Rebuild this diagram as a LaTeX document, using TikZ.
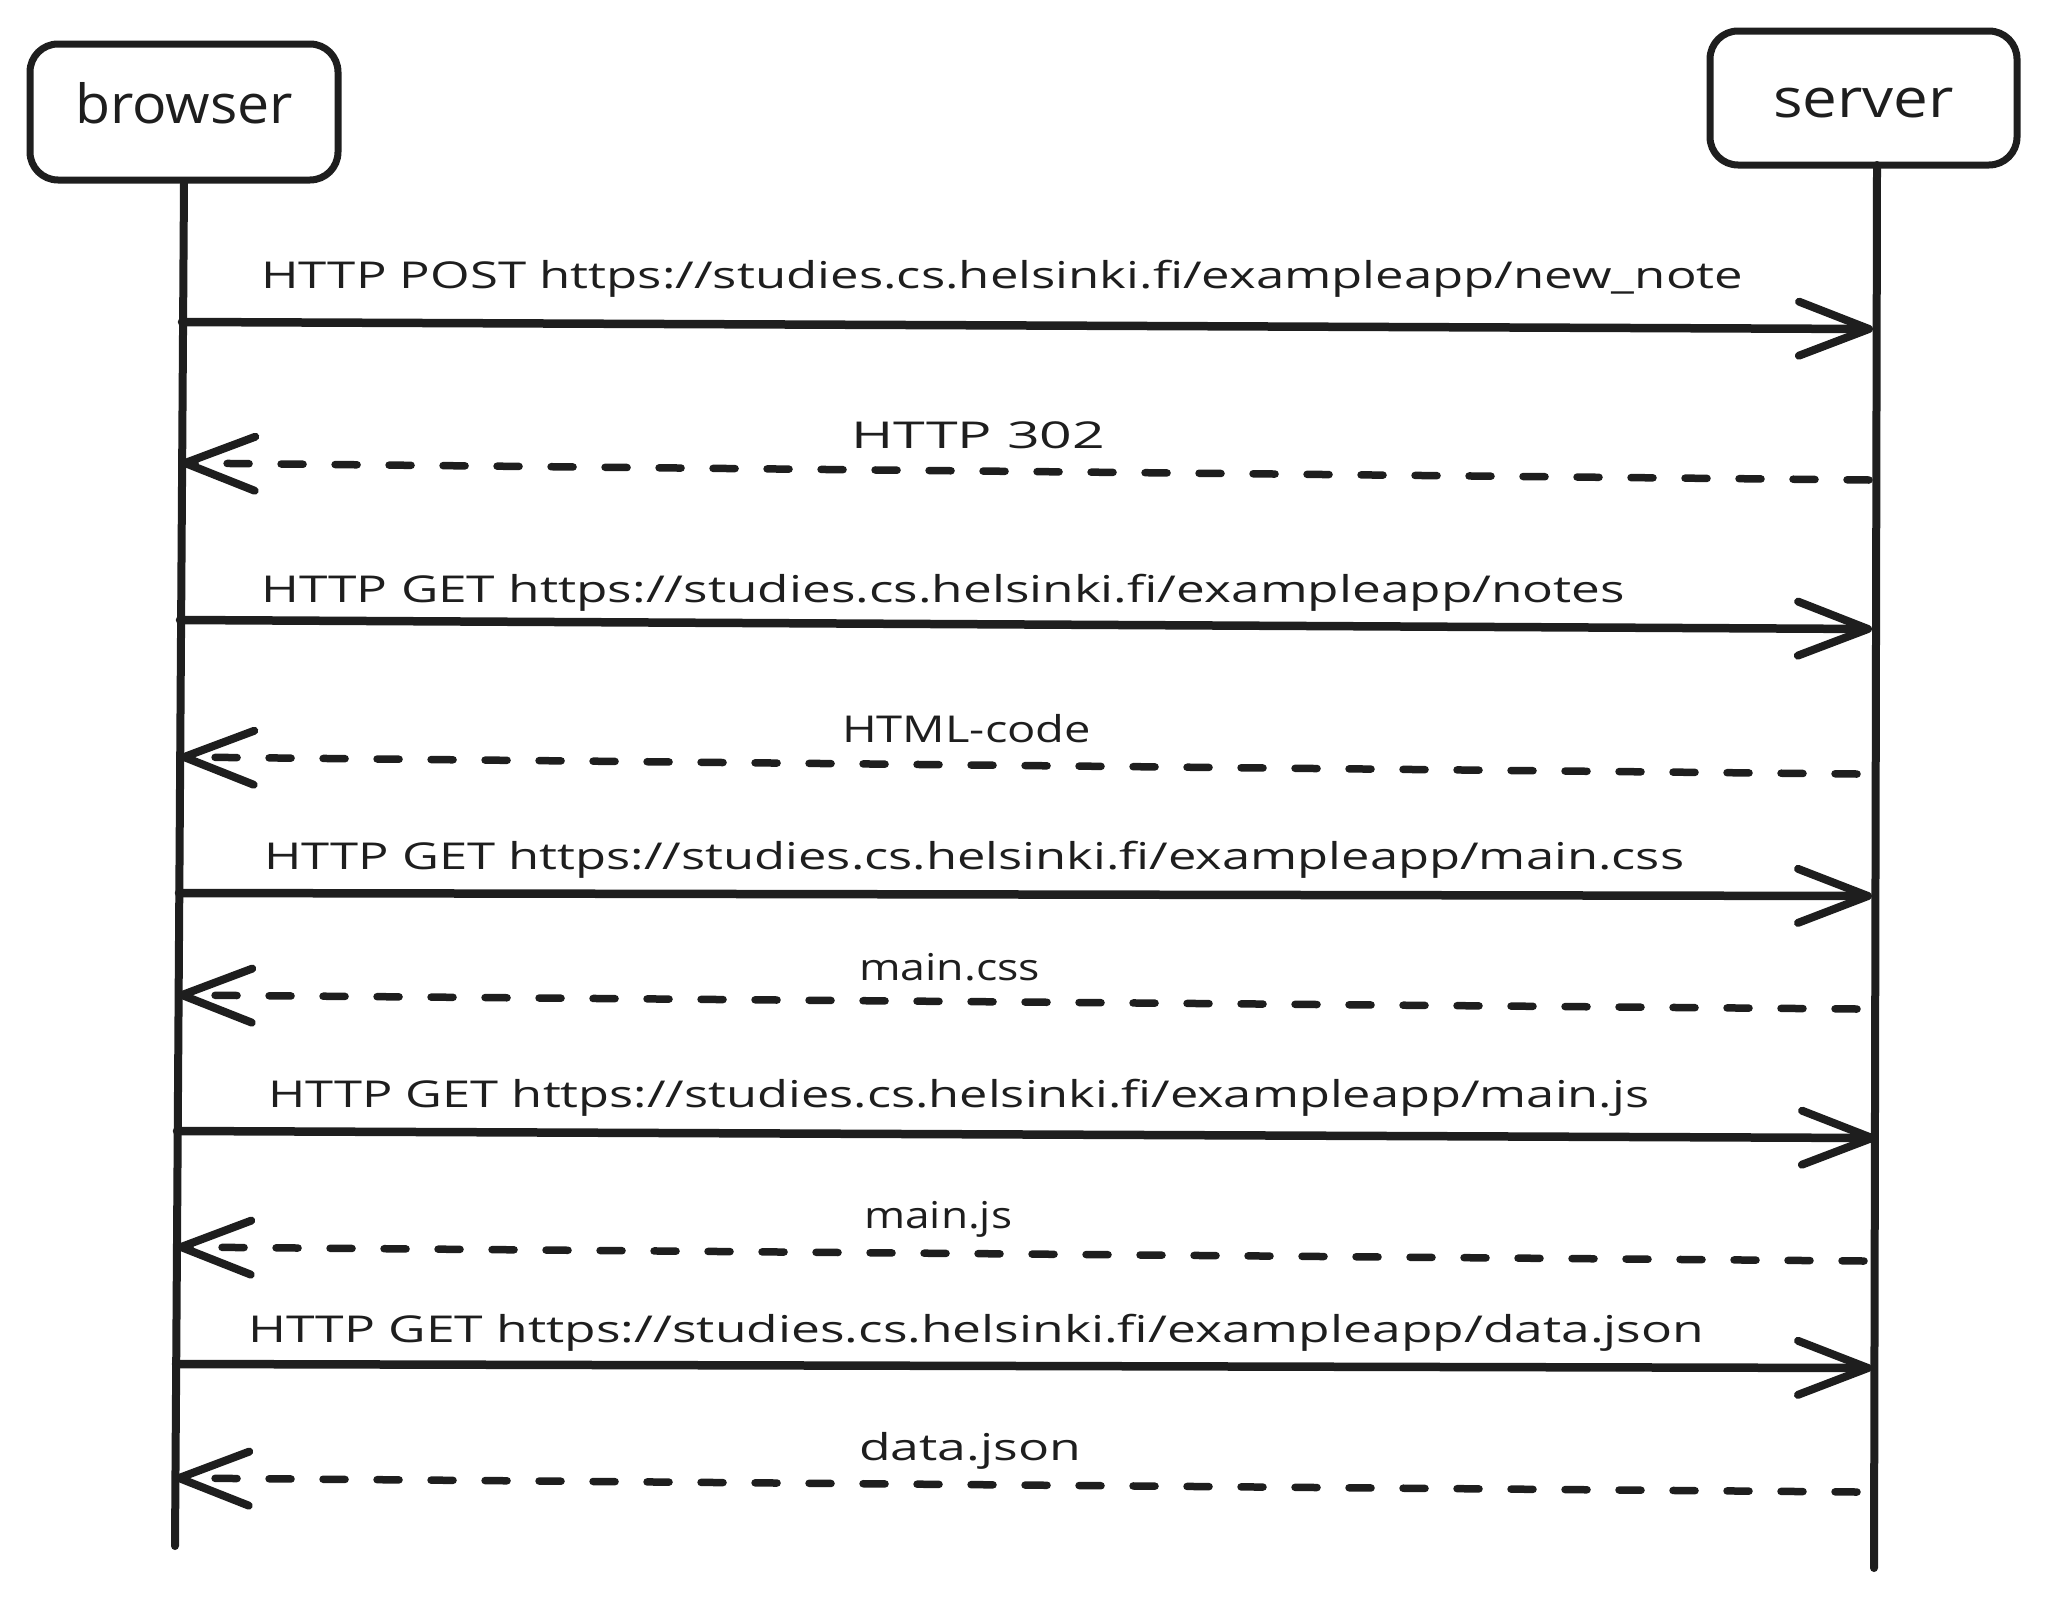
\documentclass[tikz,border=0pt]{standalone}
\usepackage{fontspec}
\setmainfont{Open Sans}
\usetikzlibrary{arrows.meta}
\definecolor{ink}{HTML}{1E1E1E}
\newlength\lablen
\newcommand\fitx[2]{\settowidth\lablen{#2}\pgfmathsetmacro\labfac{#1/\lablen}\scalebox{\labfac}[1]{#2}}
\begin{document}
\begin{tikzpicture}[x=1pt,y=-1pt,line cap=round,line join=round,
  actor/.style={draw=ink,line width=7pt,rounded corners=28pt,inner sep=0pt,text=ink,
    font=\fontsize{54}{64}\selectfont,text height=41pt},
  lifeline/.style={draw=ink,line width=8pt},
  tip/.style={-{Straight Barb[length=70pt,width=54pt,line width=8pt,round]}},
  req/.style={draw=ink,line width=8.5pt,tip},
  resp/.style={draw=ink,line width=7.5pt,dash pattern=on 22pt off 32pt,tip},
  msg/.style={inner sep=0pt,anchor=base west,text=ink,font=\fontsize{37}{44}\selectfont}]
\useasboundingbox (0,0) rectangle (2047,1598);
% actors
\node[actor,minimum width=308pt,minimum height=136pt,text depth=19pt] (browser) at (184,112) {\fitx{218pt}{browser}};
\node[actor,minimum width=307pt,minimum height=134pt,text depth=3pt] (server) at (1863.5,98) {\fitx{181pt}{server}};
% lifelines
\coordinate (bbot) at (175,1546);
\coordinate (stop) at (1877,165);
\coordinate (sbot) at (1874,1568);
\draw[lifeline] (browser.south) -- (bbot);
\draw[lifeline] (stop) -- (sbot);
% message end points
\coordinate (b1) at (182,322);   \coordinate (s1) at (1873,329);
\coordinate (s2) at (1869,480);  \coordinate (b2) at (181,463);
\coordinate (b3) at (180,620);   \coordinate (s3) at (1872,629);
\coordinate (s4) at (1857,774);  \coordinate (b4) at (180,757);
\coordinate (b5) at (179,893);   \coordinate (s5) at (1872,896);
\coordinate (s6) at (1857,1009); \coordinate (b6) at (178,995);
\coordinate (b7) at (177,1131);  \coordinate (s7) at (1876,1138);
\coordinate (s8) at (1864,1261); \coordinate (b8) at (177,1247);
\coordinate (b9) at (176,1364);  \coordinate (s9) at (1872,1368);
\coordinate (s10) at (1857,1492); \coordinate (b10) at (175,1478);
% messages
\draw[req] (b1) -- (s1);
\draw[resp] (s2) -- (b2);
\draw[req] (b3) -- (s3);
\draw[resp] (s4) -- (b4);
\draw[req] (b5) -- (s5);
\draw[resp] (s6) -- (b6);
\draw[req] (b7) -- (s7);
\draw[resp] (s8) -- (b8);
\draw[req] (b9) -- (s9);
\draw[resp] (s10) -- (b10);
% labels
\node[msg] (l1) at (261,288) {\fitx{1482pt}{HTTP POST https://studies.cs.helsinki.fi/exampleapp/new\_note}};
\node[msg] (l2) at (851,448) {\fitx{254pt}{HTTP 302}};
\node[msg] (l3) at (261,602) {\fitx{1364pt}{HTTP GET https://studies.cs.helsinki.fi/exampleapp/notes}};
\node[msg] (l4) at (842,742) {\fitx{249pt}{HTML-code}};
\node[msg] (l5) at (264,869) {\fitx{1420pt}{HTTP GET https://studies.cs.helsinki.fi/exampleapp/main.css}};
\node[msg] (l6) at (859,980) {\fitx{181pt}{main.css}};
\node[msg] (l7) at (268,1107) {\fitx{1381pt}{HTTP GET https://studies.cs.helsinki.fi/exampleapp/main.js}};
\node[msg] (l8) at (864,1228) {\fitx{148pt}{main.js}};
\node[msg] (l9) at (248,1342) {\fitx{1456pt}{HTTP GET https://studies.cs.helsinki.fi/exampleapp/data.json}};
\node[msg] (l10) at (859,1460) {\fitx{222pt}{data.json}};
\end{tikzpicture}
\end{document}
